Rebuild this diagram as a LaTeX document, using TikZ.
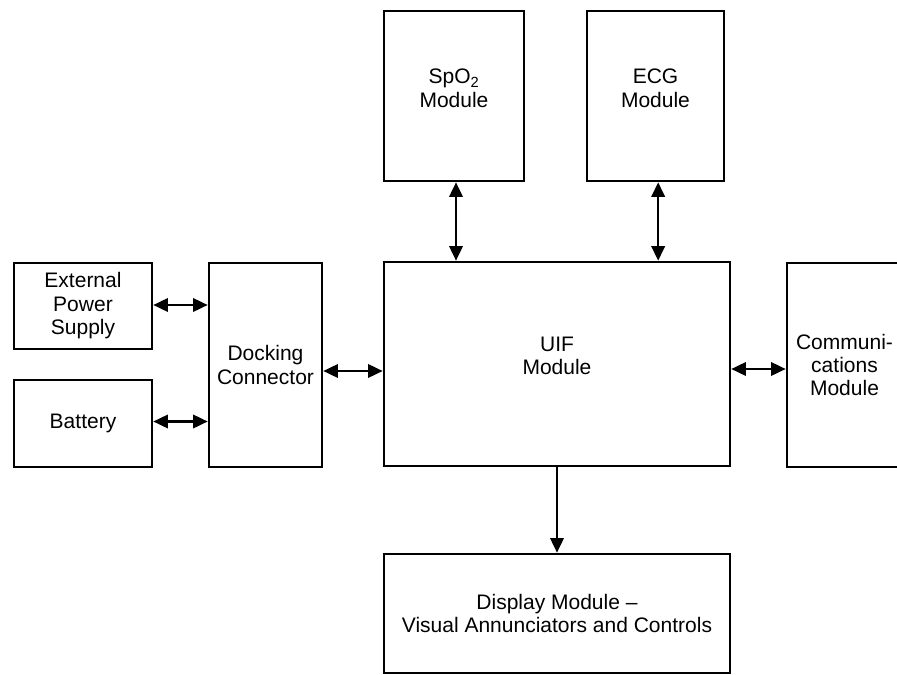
\documentclass[tikz,border=0pt]{standalone}
\usepackage{fontspec}
\setmainfont{Liberation Sans}
\usepackage{tikz}
\usetikzlibrary{arrows.meta}
\tikzstyle{block} = [draw,line width=1.9pt,rectangle,align=center,inner sep=0.5ex,
                     font=\fontsize{15.75pt}{17.6pt}\selectfont]
\tikzstyle{arrow} = [line width=1.9pt,{Triangle[length=11pt,width=10pt]}-{Triangle[length=11pt,width=10pt]}]
\tikzstyle{arrowone} = [line width=1.9pt,-{Triangle[length=11pt,width=10pt]}]

\begin{document}
\begin{tikzpicture}[x=0.75pt,y=-0.75pt]
                        \useasboundingbox (0,0) rectangle (897,675);
                        \clip (0,0) rectangle (897,675);
                        % modules on top
                        \node[block,minimum width=105pt,minimum height=127.5pt,text depth=12pt]
                            (spo2) at (454,96) {SpO\textsubscript{2}\\Module};
                        \node[block,minimum width=102.75pt,minimum height=127.5pt,text depth=12pt]
                            (ecg) at (655.5,96) {ECG\\Module};
                        % middle row
                        \node[block,minimum width=259.5pt,minimum height=153pt,text depth=12pt]
                            (uif) at (557,364) {UIF\\Module};
                        \node[block,minimum width=103.5pt,minimum height=64.5pt]
                            (ext) at (83,306) {External\\Power\\Supply};
                        \node[block,minimum width=103.5pt,minimum height=65.25pt]
                            (bat) at (83,423.5) {Battery};
                        \node[block,minimum width=84.75pt,minimum height=153pt]
                            (dock) at (265.5,365) {Docking\\Connector};
                        \node[block,minimum width=86.25pt,minimum height=153pt]
                            (comm) at (844.5,365) {Communi-\\cations\\Module};
                        % display
                        \node[block,minimum width=259.5pt,minimum height=89.25pt]
                            (disp) at (557,613.5) {Display Module --\\Visual Annunciators and Controls};
                        % links
                        \draw[arrow] ([xshift=1.5pt]spo2.south) -- ([xshift=1.5pt]spo2.south |- uif.north);
                        \draw[arrow] ([xshift=2pt]ecg.south) -- ([xshift=2pt]ecg.south |- uif.north);
                        \draw[arrow] ([yshift=0.75pt]ext.east) -- ([yshift=0.75pt]ext.east -| dock.west);
                        \draw[arrow] ([yshift=1.5pt]bat.east) -- ([yshift=1.5pt]bat.east -| dock.west);
                        \draw[arrow] ([yshift=-4.5pt]dock.east) -- ([yshift=-4.5pt]dock.east -| uif.west);
                        \draw[arrow] ([yshift=-3.75pt]uif.east) -- ([yshift=-3.75pt]uif.east -| comm.west);
                        \draw[arrowone] (uif.south) -- (disp.north);
                    \end{tikzpicture}
\end{document}
